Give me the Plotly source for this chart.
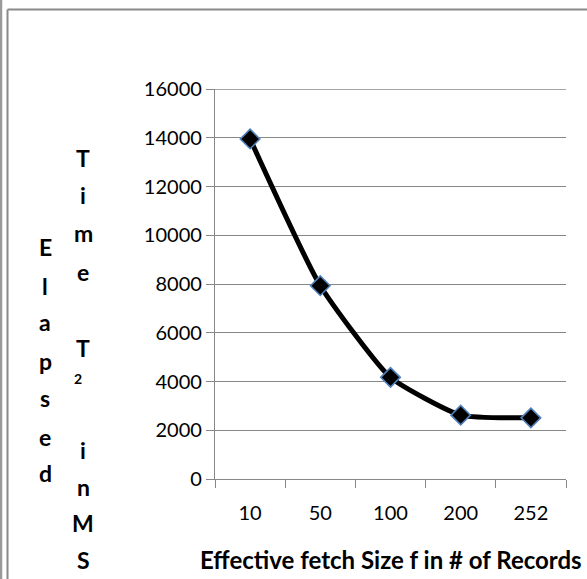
import plotly.graph_objects as go

# Effective fetch size (categories) and elapsed time T2 in ms
fetch_sizes = ["10", "50", "100", "200", "252"]
elapsed_ms = [13950, 7930, 4170, 2620, 2510]
y_ticks = [0, 2000, 4000, 6000, 8000, 10000, 12000, 14000, 16000]

W, H = 587, 579
ML, MR, MT, MB = 215, 21, 89, 100
PW, PH = W - ML - MR, H - MT - MB


def px(x):
    return (x - ML) / PW


def py(y):
    return (H - MB - y) / PH


FONT = "Lato, 'Open Sans', sans-serif"
GRID = "#878787"
TICK_SIZE = 20
TITLE_SIZE = 24
LETTER_SIZE = 23

fig = go.Figure()
fig.add_trace(go.Scatter(
    x=fetch_sizes, y=elapsed_ms, mode="lines+markers",
    line=dict(color="black", width=5, shape="spline", smoothing=0.5),
    marker=dict(symbol="diamond", size=15, color="black",
                line=dict(color="#4f81bd", width=1.6)),
    showlegend=False, cliponaxis=False,
))

fig.update_layout(
    width=W, height=H,
    margin=dict(l=ML, r=MR, t=MT, b=MB, pad=0),
    paper_bgcolor="white", plot_bgcolor="white",
    font=dict(family=FONT, color="black", size=TICK_SIZE),
    xaxis=dict(
        type="category", tickson="boundaries", ticks="outside", ticklen=8,
        tickcolor=GRID, tickwidth=1.3, showline=True, linecolor=GRID,
        linewidth=1.3, showgrid=False, zeroline=False,
        tickfont=dict(size=TICK_SIZE, family=FONT), range=[-0.5, 4.5],
        ticklabelstandoff=16,
    ),
    yaxis=dict(
        range=[0, 16000], tickvals=y_ticks, tickformat="d", ticks="outside",
        ticklen=8, tickcolor=GRID, tickwidth=1.3, showline=True,
        linecolor=GRID, linewidth=1.3, showgrid=True, gridcolor=GRID,
        gridwidth=1.3, zeroline=False,
        tickfont=dict(size=TICK_SIZE, family=FONT),
    ),
)

# Chart frame lines and the top gridline
shapes = [
    dict(type="line", xref="paper", yref="paper", x0=px(1), x1=px(1),
         y0=py(0), y1=py(H), line=dict(color="#9a9a9a", width=2.5)),
    dict(type="line", xref="paper", yref="paper", x0=px(7.5), x1=px(7.5),
         y0=py(9.5), y1=py(H), line=dict(color="#8a8a8a", width=2)),
    dict(type="line", xref="paper", yref="paper", x0=px(7.5), x1=px(W),
         y0=py(9.5), y1=py(9.5), line=dict(color="#8a8a8a", width=2)),
    dict(type="line", xref="paper", yref="y", x0=0, x1=1,
         y0=y_ticks[-1], y1=y_ticks[-1], line=dict(color=GRID, width=1.3)),
]

annotations = []

# X-axis title
annotations.append(dict(
    text="<b>Effective fetch Size f in # of Records</b>", xref="paper",
    yref="paper", x=px(391), y=py(559), showarrow=False,
    xanchor="center", yanchor="middle", font=dict(size=TITLE_SIZE, family=FONT),
))

# Y-axis title, written as stacked letters in two columns
col1 = [("E", 247), ("l", 286), ("a", 322), ("p", 361), ("s", 398),
        ("e", 437), ("d", 473)]
col2 = [("T", 158), ("i", 195), ("m", 233), ("e", 272), ("T", 348),
        ("i", 450), ("n", 487), ("M", 523), ("S", 560)]
for ch, yy in col1:
    annotations.append(dict(text=f"<b>{ch}</b>", xref="paper", yref="paper",
                            x=px(45), y=py(yy), showarrow=False,
                            xanchor="center", yanchor="middle",
                            font=dict(size=LETTER_SIZE, family=FONT)))
for ch, yy in col2:
    annotations.append(dict(text=f"<b>{ch}</b>", xref="paper", yref="paper",
                            x=px(83), y=py(yy), showarrow=False,
                            xanchor="center", yanchor="middle",
                            font=dict(size=LETTER_SIZE, family=FONT)))
annotations.append(dict(text="<b>2</b>", xref="paper", yref="paper",
                        x=px(78), y=py(378), showarrow=False,
                        xanchor="center", yanchor="middle",
                        font=dict(size=14, family=FONT)))

fig.update_layout(shapes=shapes, annotations=annotations)
fig.write_html("out.html")
